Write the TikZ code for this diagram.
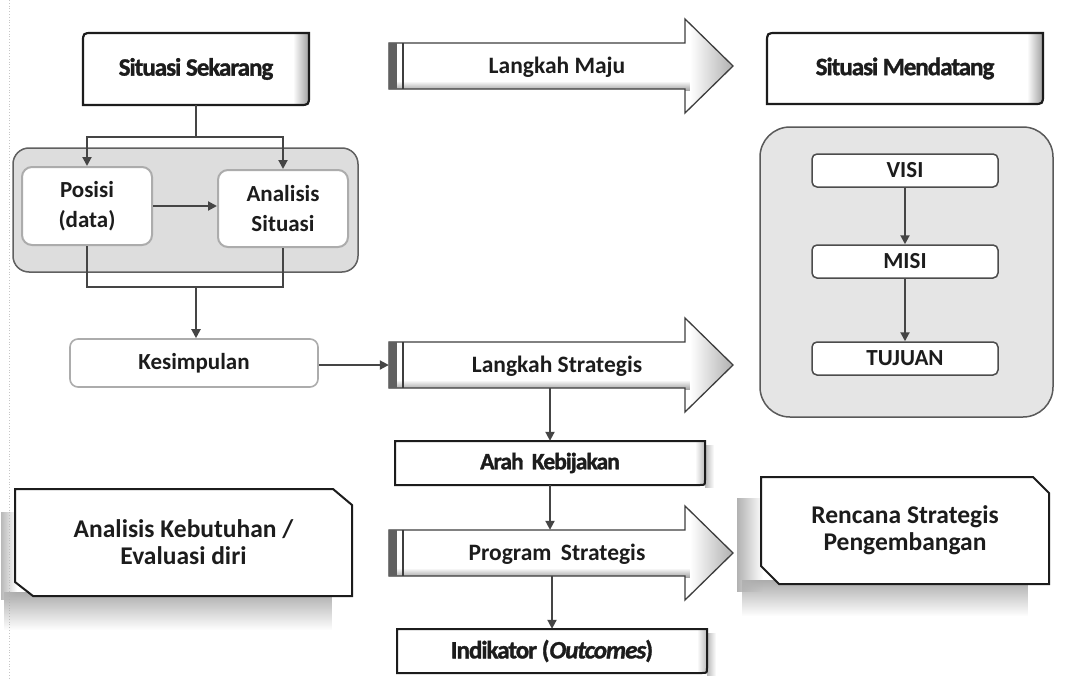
\documentclass[tikz,border=0pt]{standalone}
\usepackage{fontspec}
\setmainfont{Carlito}
\newfontfamily\heavyfont[FakeBold=1.3,LetterSpace=-4]{Carlito}
\usetikzlibrary{arrows.meta,fadings}
\definecolor{ink}{HTML}{1C1C1C}
\definecolor{conn}{HTML}{454545}
\tikzset{
  txt/.style={font=\bfseries\fontsize{23}{30}\selectfont, text=ink, align=center, inner sep=0pt},
  bigtxt/.style={font=\bfseries\fontsize{25.5}{27}\selectfont, text=ink, align=center, inner sep=0pt},
  heavy/.style={font=\heavyfont\bfseries\fontsize{25}{28}\selectfont, text=ink, align=center, inner sep=0pt},
  link/.style={draw=conn, line width=2pt},
  arr/.style={link, -{Triangle[width=9pt,length=9pt]}},
}
% big block arrow: name, y centre, text
\newcommand\bigarrow[3]{%
  \begin{scope}
    \clip (389,#2-23) -- (685,#2-23) -- (685,#2-47) -- (733,#2) -- (685,#2+47) -- (685,#2+23) -- (389,#2+23) -- cycle;
    \fill[white] (380,#2-50) rectangle (740,#2+50);
    \shade[top color=white, bottom color=gray!70] (380,#2+15) rectangle (740,#2+24);
    \shade[left color=white, right color=gray!65] (690,#2-50) rectangle (735,#2+50);
  \end{scope}
  \draw[draw=ink!85, line width=1.3pt, line join=miter] (389,#2-23) -- (685,#2-23) -- (685,#2-47) -- (733,#2) -- (685,#2+47) -- (685,#2+23) -- (389,#2+23) -- cycle;
  \fill[ink!70] (389,#2-23) rectangle (396.5,#2+23);
  \fill[ink!85] (401.5,#2-23) rectangle (403.5,#2+23);
  \node[minimum width=296pt, minimum height=46pt, inner sep=0pt] (#1) at (537,#2) {};
  \node[txt, font=\bfseries\fontsize{23.5}{26}\selectfont] at (557,#2+1) {#3};
}
% box with rounded top-left and bottom-right corners: x1,y1,x2,y2
\newcommand\sitbox[4]{%
  \begin{scope}
    \clip (#1,#4) -- (#1,#2+10) .. controls (#1,#2) .. (#1+10,#2) -- (#3,#2) -- (#3,#4-10) .. controls (#3,#4) .. (#3-10,#4) -- cycle;
    \fill[white] (#1,#2) rectangle (#3,#4);
    \shade[left color=white, right color=gray!75] (#3-16,#2) rectangle (#3,#4);
  \end{scope}
  \draw[draw=ink, line width=2.2pt] (#1,#4) -- (#1,#2+10) .. controls (#1,#2) .. (#1+10,#2) -- (#3,#2) -- (#3,#4-10) .. controls (#3,#4) .. (#3-10,#4) -- cycle;
}
% box with small rounded bottom-right corner and outer right shadow
\newcommand\flatbox[4]{%
  \shade[left color=gray!55, right color=white] (#3,#2+4) rectangle (#3+9,#4+2);
  \begin{scope}
    \clip (#1,#4) -- (#1,#2) -- (#3,#2) -- (#3,#4-5) .. controls (#3,#4) .. (#3-5,#4) -- cycle;
    \fill[white] (#1,#2) rectangle (#3,#4);
    \shade[left color=white, right color=gray!55] (#3-10,#2) rectangle (#3,#4);
  \end{scope}
  \draw[draw=ink, line width=2pt] (#1,#4) -- (#1,#2) -- (#3,#2) -- (#3,#4-5) .. controls (#3,#4) .. (#3-5,#4) -- cycle;
}
\begin{document}
\begin{tikzpicture}[x=1pt,y=-1pt]
\useasboundingbox (0,0) rectangle (1074,680);
\fill[white] (0,0) rectangle (1074,680);
% scan edge
\draw[gray!45, line width=0.8pt, dotted] (9,0) -- (9,680);

% ---------- top row ----------
\sitbox{83}{33}{309}{105}
\node[heavy, minimum width=226pt, minimum height=72pt] (sek) at (196,69) {Situasi Sekarang};

\sitbox{767}{33}{1043}{104}
\node[heavy, minimum width=276pt, minimum height=71pt] (mend) at (905,68.5) {Situasi Mendatang};

\bigarrow{lmaju}{66}{Langkah Maju}

% ---------- left container ----------
\fill[gray!27, draw=gray!75!black, line width=1.5pt, rounded corners=16pt] (13,148) rectangle (358,272);
\node[txt, draw=gray!65, fill=white, line width=2pt, rounded corners=10pt,
      minimum width=130pt, minimum height=78pt] (pos) at (87,206) {Posisi\\(data)};
\node[txt, draw=gray!65, fill=white, line width=2pt, rounded corners=10pt,
      minimum width=130pt, minimum height=77pt] (anal) at (283,208.5) {Analisis\\Situasi};

\coordinate (split) at (196,137);
\draw[link] (sek.south) -- (split);
\draw[arr] (split) -| (pos.north);
\draw[arr] (split) -| (anal.north);
\draw[arr] (pos.east) -- (pos.east -| anal.west);

\coordinate (join) at (196,287);
\draw[link] (pos.south) |- (join) -| (anal.south);

% ---------- middle column ----------
\node[txt, draw=gray!65, fill=white, line width=1.6pt, rounded corners=8pt,
      minimum width=248pt, minimum height=48pt] (kes) at (194,363) {Kesimpulan};
\draw[arr] (join) -- (join |- kes.north);

\bigarrow{lstrat}{365}{Langkah Strategis}
\draw[arr] (kes.east |- lstrat.west) -- (lstrat.west);

\flatbox{395}{441}{705}{485}
\node[heavy, font=\heavyfont\bfseries\fontsize{23.5}{26}\selectfont, minimum width=310pt, minimum height=44pt] (arah) at (550,463) {Arah\hspace{0.35em}Kebijakan};
\draw[arr] (arah.north |- lstrat.south) -- (arah.north);

\bigarrow{prog}{553}{Program\hspace{0.4em}Strategis}
\draw[arr] (arah.south) -- (arah.south |- prog.north);

\flatbox{397}{629}{707}{673}
\node[heavy, minimum width=310pt, minimum height=44pt] (indik) at (552,651) {Indikator (\textit{Outcomes})};
\draw[arr] (indik.north |- prog.south) -- (indik.north);

% ---------- right container ----------
\fill[gray!20, draw=gray!70!black, line width=1.5pt, rounded corners=30pt] (760,127) rectangle (1053,417);
\tikzset{goal/.style={txt, draw=gray!60!black, fill=white,
      line width=1.5pt, rounded corners=5pt, minimum width=186pt, minimum height=33pt}}
\node[goal] (visi) at (905,170.5) {VISI};
\node[goal] (misi) at (905,261.5) {MISI};
\node[goal] (tuj) at (905,358.5) {TUJUAN};
\draw[arr] (visi.south) -- (misi.north);
\draw[arr] (misi.south) -- (tuj.north);

% ---------- bottom chamfered boxes ----------
\fill[gray!65, path fading=south] (4,592) rectangle (332,630);
\fill[gray!55, path fading=east] (1,512) rectangle (17,600);
\fill[white, draw=ink, line width=2pt] (15,489) -- (333,489) -- (352,505) -- (352,596) -- (33,596) -- (15,582) -- cycle;
\node[bigtxt, minimum width=337pt, minimum height=107pt] (akeb) at (183.5,542.5) {Analisis Kebutuhan /\\Evaluasi diri};

\fill[gray!65, path fading=south] (742,580) rectangle (1028,616);
\fill[gray!60, path fading=east] (737,498) rectangle (763,592);
\fill[white, draw=ink, line width=2pt] (761,477) -- (1033,477) -- (1049,493) -- (1049,584) -- (779,584) -- (761,566) -- cycle;
\node[bigtxt, minimum width=288pt, minimum height=107pt] (renc) at (905,530.5) {Rencana Strategis\\Pengembangan};
\end{tikzpicture}
\end{document}
